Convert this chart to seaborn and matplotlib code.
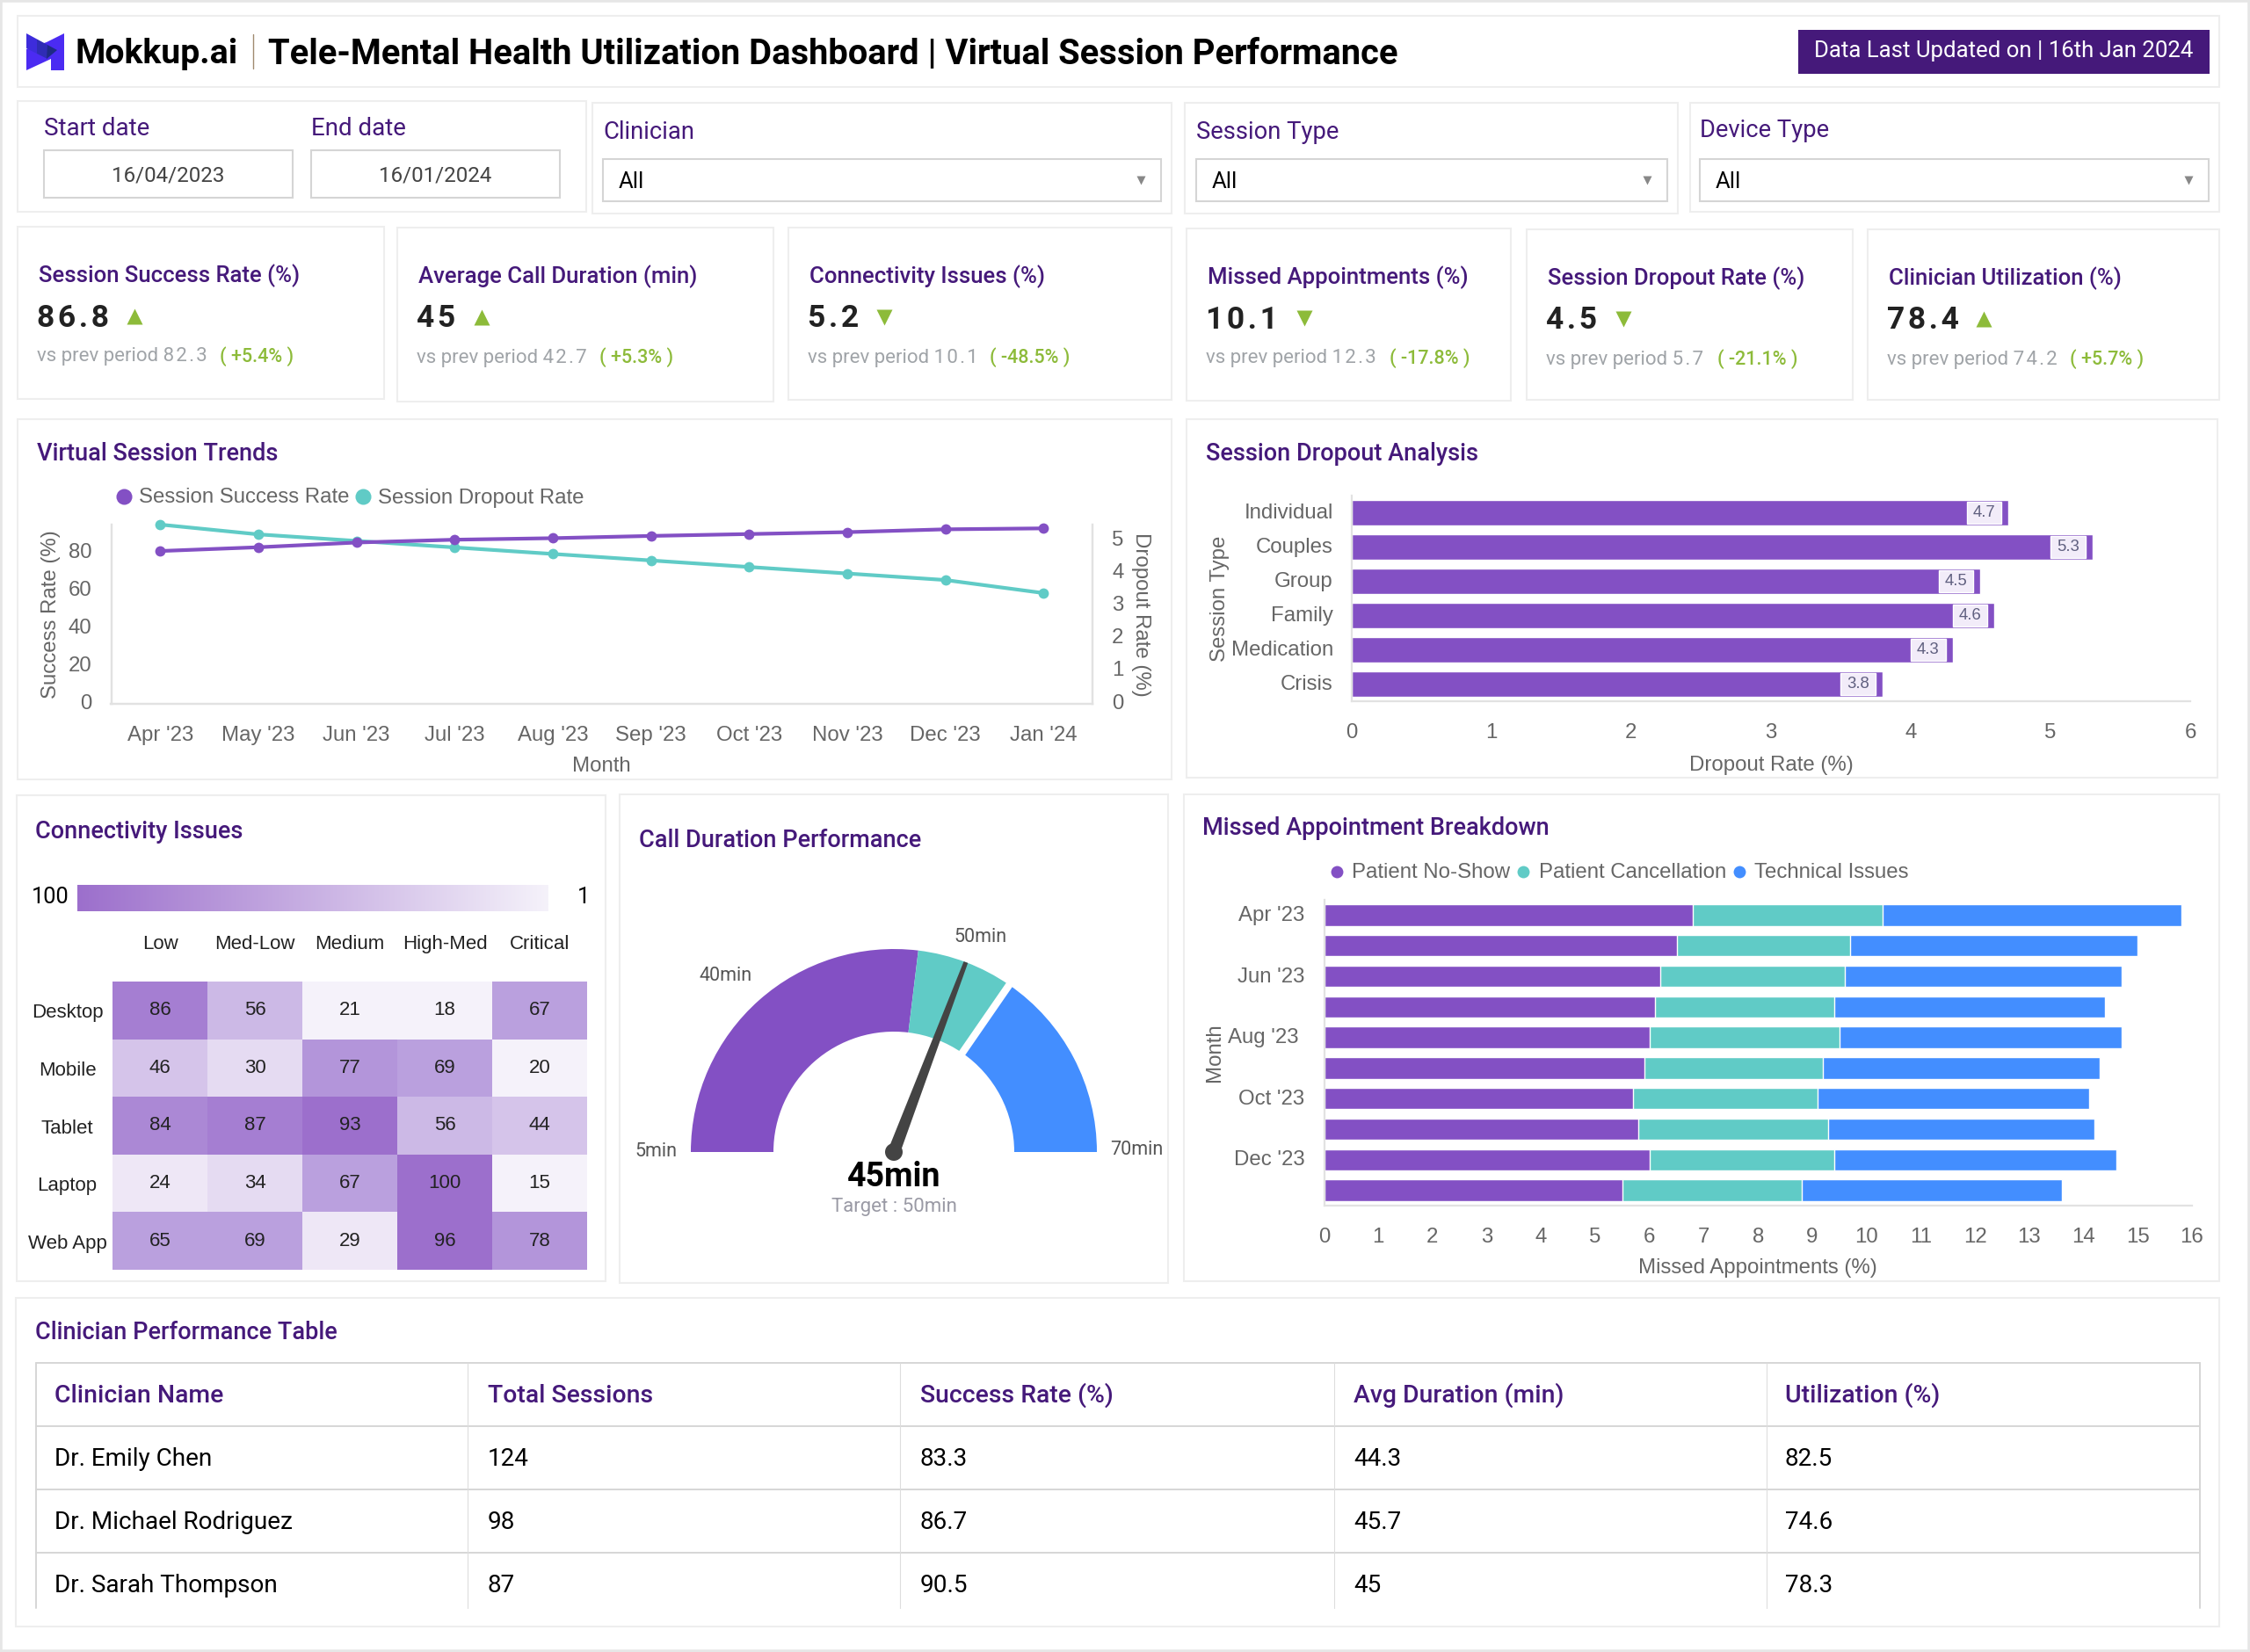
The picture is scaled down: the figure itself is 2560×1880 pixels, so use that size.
import numpy as np
import pandas as pd
import matplotlib
matplotlib.use("Agg")
import matplotlib.pyplot as plt
from matplotlib.patches import Rectangle, Polygon, Circle
from matplotlib.colors import ListedColormap, BoundaryNorm, LinearSegmentedColormap
from matplotlib.transforms import ScaledTranslation
import seaborn as sns

sns.set_theme(style="white")
plt.rcParams['font.family'] = ['Liberation Sans', 'DejaVu Sans']

W, H = 2560, 1880
PURPLE = '#8350C4'
TEAL = '#60CBC6'
BLUE = '#438EFF'
DARK = '#45197A'
GREEN = '#8DBB3A'
GREY = '#666666'
CARD_EDGE = '#EEEEEE'
AXIS_LINE = '#E2E2E2'
UI = ['Roboto', 'DejaVu Sans']
LABEL_SIZE = 17.3

# filters
start_date = '16/04/2023'
end_date = '16/01/2024'
filter_names = ['Clinician', 'Session Type', 'Device Type']

# kpi cards
kpi_titles = ['Session Success Rate (%)', 'Average Call Duration (min)', 'Connectivity Issues (%)',
              'Missed Appointments (%)', 'Session Dropout Rate (%)', 'Clinician Utilization (%)']
kpi_values = ['86.8', '45', '5.2', '10.1', '4.5', '78.4']
kpi_prev = ['82.3', '42.7', '10.1', '12.3', '5.7', '74.2']
kpi_change = ['+5.4%', '+5.3%', '-48.5%', '-17.8%', '-21.1%', '+5.7%']
kpi_up = [True, True, False, False, False, True]

# trends
months = ["Apr '23", "May '23", "Jun '23", "Jul '23", "Aug '23", "Sep '23", "Oct '23", "Nov '23", "Dec '23", "Jan '24"]
success_rate = [81, 83, 85.5, 87, 87.8, 89, 90, 91, 92.5, 93]
dropout_rate = [5.5, 5.2, 5.0, 4.8, 4.6, 4.4, 4.2, 4.0, 3.8, 3.4]

# dropout by session type
session_types = ['Individual', 'Couples', 'Group', 'Family', 'Medication', 'Crisis']
session_dropout = [4.7, 5.3, 4.5, 4.6, 4.3, 3.8]

# connectivity heatmap
devices = ['Desktop', 'Mobile', 'Tablet', 'Laptop', 'Web App']
severities = ['Low', 'Med-Low', 'Medium', 'High-Med', 'Critical']
issues_low = [86, 46, 84, 24, 65]
issues_medlow = [56, 30, 87, 34, 69]
issues_medium = [21, 77, 93, 67, 29]
issues_highmed = [18, 69, 56, 100, 96]
issues_critical = [67, 20, 44, 15, 78]
heat_bins = [0, 22, 30, 40, 50, 60, 70, 80, 85, 90, 101]
heat_colors = ['#F5F2FA', '#EEE7F6', '#E5DBF2', '#D5C4EA', '#CCB9E6', '#BAA0DE', '#B395DA', '#AB88D5', '#A57ED2', '#9C6FCC']

# gauge
gauge_bounds = [5, 40, 50, 70]
gauge_actual = 45
gauge_target = 50

# missed appointments
no_show = [6.8, 6.5, 6.2, 6.1, 6.0, 5.9, 5.7, 5.8, 6.0, 5.5]
cancellation = [3.5, 3.2, 3.4, 3.3, 3.5, 3.3, 3.4, 3.5, 3.4, 3.3]
technical = [5.5, 5.3, 5.1, 5.0, 5.2, 5.1, 5.0, 4.9, 5.2, 4.8]

# table
table_headers = ['Clinician Name', 'Total Sessions', 'Success Rate (%)', 'Avg Duration (min)', 'Utilization (%)']
clinicians = ['Dr. Emily Chen', 'Dr. Michael Rodriguez', 'Dr. Sarah Thompson']
total_sessions = ['124', '98', '87']
success_by_clinician = ['83.3', '86.7', '90.5']
duration_by_clinician = ['44.3', '45.7', '45']
utilization_by_clinician = ['82.5', '74.6', '78.3']

fig = plt.figure(figsize=(W / 100, H / 100), dpi=100, facecolor='white')
bg = fig.add_axes([0, 0, 1, 1])
bg.set_xlim(0, W)
bg.set_ylim(H, 0)
bg.axis('off')


def px_axes(x0, y0, x1, y1):
    a = fig.add_axes([x0 / W, 1 - y1 / H, (x1 - x0) / W, (y1 - y0) / H])
    a.patch.set_alpha(0)
    return a


def card(x0, y0, x1, y1, ec=CARD_EDGE, lw=1.5):
    bg.add_patch(Rectangle((x0, y0), x1 - x0, y1 - y0, fc='white', ec=ec, lw=lw))


def txt(x, y, s, size, color='black', weight='normal', ha='left', family=UI):
    bg.text(x, y + 2, s, fontsize=size, color=color, fontweight=weight, ha=ha, va='center', family=family)


def spaced(s):
    # the dashboard letter-spaces its numbers
    return '\u200a'.join(s)


def nudge(labels, dx_px=0, dy_px=0):
    shift = ScaledTranslation(dx_px / 100, -dy_px / 100, fig.dpi_scale_trans)
    for lab in labels:
        lab.set_transform(lab.get_transform() + shift)


def style_axis(a):
    sns.despine(ax=a)
    for side in ['left', 'bottom']:
        a.spines[side].set_color(AXIS_LINE)
        a.spines[side].set_linewidth(1.6)


def place_labels(a, xlabel, xpos, ylabel, ypos):
    a.set_xlabel(xlabel, fontsize=LABEL_SIZE, color=GREY, va='center', ha='center')
    a.xaxis.set_label_coords(xpos[0], xpos[1], transform=bg.transData)
    a.set_ylabel(ylabel, fontsize=LABEL_SIZE, color=GREY, va='center', ha='center')
    a.yaxis.set_label_coords(ypos[0], ypos[1], transform=bg.transData)


# page border
bg.add_patch(Rectangle((0, 0), W, H, fc='white', ec='#E6E6E6', lw=4))

# header
card(20, 18, 2525, 99)
bg.add_patch(Polygon([(73, 38), (73, 80), (58, 80), (58, 67), (30, 80), (30, 56), (53, 48)], fc='#4B2BF2', ec='none'))
bg.add_patch(Polygon([(30, 38), (42, 44.5), (42, 61), (30, 55)], fc='#3D2CDB', ec='none'))
bg.add_patch(Polygon([(42, 44.5), (54, 51), (54, 67), (42, 61)], fc='#2F2CB5', ec='none'))
bg.add_patch(Polygon([(54, 51), (65, 57), (53, 67)], fc='#1E2A85', ec='none'))
txt(85, 60, 'Mokkup.ai', 28.3, weight='bold')
bg.plot([288, 288], [39, 78], color='#A08A70', lw=1)
txt(305, 60, 'Tele-Mental Health Utilization Dashboard | Virtual Session Performance', 28.7, weight='bold')
bg.add_patch(Rectangle((2046, 34), 468, 50, fc=DARK, ec='none'))
txt(2280, 56, 'Data Last Updated on | 16th Jan 2024', 18.5, color='white', ha='center')

# filters
card(20, 115, 667, 241)
for label, value, bx in [('Start date', start_date, 50), ('End date', end_date, 354)]:
    txt(bx, 145, label, 20, color=DARK)
    bg.add_patch(Rectangle((bx, 171), 283, 54, fc='white', ec='#D5D5D5', lw=1.5))
    txt(bx + 141, 197.5, value, 17.4, color='#444444', ha='center')

filter_cards = [(674, 1333, 686, 1321, 149), (1348, 1909, 1361, 1897, 149), (1923, 2525, 1934, 2513, 147)]
for name, (c0, c1, b0, b1, ly) in zip(filter_names, filter_cards):
    card(c0, 117, c1, 243 if c1 != 2525 else 241)
    txt(b0, ly, name, 19.7, color=DARK)
    bg.add_patch(Rectangle((b0, 181), b1 - b0, 48, fc='white', ec='#D5D5D5', lw=1.5))
    txt(b0 + 18, 204.5, 'All', 18.5)
    bg.plot(b1 - 23, 205, marker='v', ms=6.5, color='#888888', mec='none')

# kpi row
kpi_cards = [(20, 258, 437, 454), (452, 259, 880, 457), (897, 259, 1333, 455),
             (1350, 260, 1719, 456), (1737, 261, 2108, 455), (2125, 261, 2525, 455)]
kpi_arrow_x = [153, 548, 1006, 1484, 1847, 2257]
kpi_green_x = [250, 682, 1126, 1581, 1954, 2355]
for i, (x0, y0, x1, y1) in enumerate(kpi_cards):
    card(x0, y0, x1, y1)
    tx = x0 + 23
    ty = y0 + 52
    txt(tx + 1, ty + 1.5, kpi_titles[i], 18.5, color=DARK, weight='medium')
    txt(tx - 1, ty + 50, spaced(kpi_values[i]), 25.5, color='#222222', weight='bold')
    bg.plot(kpi_arrow_x[i], ty + 50, marker='^' if kpi_up[i] else 'v', ms=13, color=GREEN, mec='none')
    txt(tx - 1, ty + 94, 'vs prev period ' + spaced(kpi_prev[i]), 16, color='#A0A4A8')
    txt(kpi_green_x[i], ty + 94, '( ' + kpi_change[i] + ' )', 15.5, color=GREEN, weight='medium')

# chart cards
card(20, 477, 1333, 887)
card(1350, 477, 2523, 885)
card(19, 905, 689, 1458)
card(705, 904, 1329, 1460)
card(1347, 904, 2525, 1458)
card(18, 1477, 2525, 1851)
TITLE_SIZE = 19.5
txt(42, 514, 'Virtual Session Trends', TITLE_SIZE, color=DARK, weight='medium')
txt(1372, 514, 'Session Dropout Analysis', TITLE_SIZE, color=DARK, weight='medium')
txt(40, 944, 'Connectivity Issues', TITLE_SIZE, color=DARK, weight='medium')
txt(727, 954, 'Call Duration Performance', TITLE_SIZE, color=DARK, weight='medium')
txt(1368, 940, 'Missed Appointment Breakdown', TITLE_SIZE, color=DARK, weight='medium')
txt(40, 1514, 'Clinician Performance Table', TITLE_SIZE, color=DARK, weight='medium')

# virtual session trends
bg.plot(141, 565, marker='o', ms=13, color=PURPLE, mec='none')
bg.plot(413, 565, marker='o', ms=13, color=TEAL, mec='none')
txt(158, 564.5, 'Session Success Rate', LABEL_SIZE, color=GREY, family='Liberation Sans')
txt(430, 564.5, 'Session Dropout Rate', LABEL_SIZE, color=GREY, family='Liberation Sans')

ax = px_axes(126.5, 597, 1243, 801)
ax2 = ax.twinx()
sns.lineplot(x=months, y=success_rate, ax=ax, color=PURPLE, lw=3, marker='o', ms=8.5, mec='none', sort=False)
sns.lineplot(x=months, y=dropout_rate, ax=ax2, color=TEAL, lw=3, marker='o', ms=8.5, mec='none', sort=False)
for line in ax.lines + ax2.lines:
    line.set_clip_on(False)
ax.set_zorder(ax2.get_zorder() + 1)
ax.patch.set_alpha(0)
ax2.patch.set_alpha(0)
ax.set_xlim(-0.5, 9.5)
ax.set_ylim(0, 95)
ax2.set_ylim(0, 5.5)
ax.set_yticks([0, 20, 40, 60, 80])
ax2.set_yticks([0, 1, 2, 3, 4, 5])
ax.tick_params(axis='x', labelsize=LABEL_SIZE, labelcolor=GREY, length=0, pad=18)
ax.tick_params(axis='y', labelsize=LABEL_SIZE, labelcolor=GREY, length=0, pad=16)
ax2.tick_params(axis='y', labelsize=LABEL_SIZE, labelcolor=GREY, length=0, pad=16)
nudge(ax.get_yticklabels(), dy_px=-3)
nudge(ax2.get_yticklabels(), dy_px=-3)
for a in (ax, ax2):
    for s in a.spines.values():
        s.set_color(AXIS_LINE)
        s.set_linewidth(1.6)
    a.spines['top'].set_visible(False)
place_labels(ax, 'Month', (684, 872.5), 'Success Rate (%)', (58, 699))
ax2.set_ylabel('Dropout Rate (%)', fontsize=LABEL_SIZE, color=GREY, rotation=-90, va='center', ha='center')
ax2.yaxis.set_label_coords(1298, 699, transform=bg.transData)

# session dropout
ax = px_axes(1537.7, 564, 2492, 798)
sns.barplot(x=session_dropout, y=session_types, ax=ax, color=PURPLE, saturation=1, width=0.72, orient='h')
for i, v in enumerate(session_dropout):
    ax.barh(i, 0.25, left=v - 0.30, height=0.64, color='#F2ECF9')
    ax.text(v - 0.175, i, str(v), ha='center', va='center', fontsize=13.3, color='#5F5F7F')
ax.set_xlim(0, 6)
ax.set_ylim(5.5, -0.5)
style_axis(ax)
ax.tick_params(axis='x', labelsize=LABEL_SIZE, labelcolor=GREY, length=0, pad=18)
ax.tick_params(axis='y', labelsize=LABEL_SIZE, labelcolor=GREY, length=0, pad=15)
nudge(ax.get_yticklabels(), dy_px=-2)
place_labels(ax, 'Dropout Rate (%)', (2015, 870.5), 'Session Type', (1388, 681))

# connectivity heatmap
heat = pd.DataFrame({'Low': issues_low, 'Med-Low': issues_medlow, 'Medium': issues_medium,
                     'High-Med': issues_highmed, 'Critical': issues_critical}, index=devices)[severities]
bar_ax = px_axes(88, 1007, 624, 1037)
bar_cmap = LinearSegmentedColormap.from_list('conn', ['#9C6FCC', '#F5F2FA'])
bar_ax.imshow(np.linspace(0, 1, 256)[None, :], aspect='auto', cmap=bar_cmap)
bar_ax.axis('off')
txt(36, 1019, '100', 18.4)
txt(657, 1019, '1', 18.4)

ax = px_axes(128, 1117, 668, 1445)
sns.heatmap(heat, ax=ax, cmap=ListedColormap(heat_colors), norm=BoundaryNorm(heat_bins, len(heat_colors)),
            annot=True, fmt='d', annot_kws={'fontsize': 16, 'color': '#222222'}, cbar=False, linewidths=0)
ax.xaxis.tick_top()
ax.set_xlabel('')
ax.set_ylabel('')
ax.tick_params(axis='x', labelsize=16, labelcolor='#222222', length=0, pad=23, rotation=0)
ax.tick_params(axis='y', labelsize=16, labelcolor='#222222', length=0, pad=37, rotation=0)
for lab in ax.get_yticklabels():
    lab.set_ha('center')
nudge(ax.get_yticklabels(), dy_px=3)

# gauge
cx, cy, R = 1017, 1311, 231
ax = px_axes(cx - R, cy - R, cx + R, cy + R)
segments = list(np.diff(gauge_bounds))
span = gauge_bounds[-1] - gauge_bounds[0]
ax.pie(segments + [span], colors=[PURPLE, TEAL, BLUE, 'none'], startangle=180, counterclock=False,
       radius=1, wedgeprops={'width': 94 / R, 'linewidth': 0})


def gauge_angle(v):
    return np.pi - (v - gauge_bounds[0]) / span * np.pi


gap = gauge_angle(gauge_bounds[2])
ax.plot([0.55 * np.cos(gap), 1.05 * np.cos(gap)], [0.55 * np.sin(gap), 1.05 * np.sin(gap)], color='white', lw=6)
ang = gauge_angle(gauge_actual)
d = np.array([np.cos(ang), np.sin(ang)])
n = np.array([-d[1], d[0]])
ax.add_patch(Polygon([7 / R * n, -7 / R * n, d - 2.5 / R * n, d + 2.5 / R * n], fc='#444444', ec='none', zorder=5))
ax.add_patch(Circle((0, 0), 10 / R, fc='#444444', ec='none', zorder=5))
ax.set_xlim(-1, 1)
ax.set_ylim(-1, 1)
txt(746.5, 1308, '5min', 15.5, color='#555555', ha='center')
txt(826, 1109, '40min', 15.5, color='#555555', ha='center')
txt(1115, 1065, '50min', 15.5, color='#555555', ha='center')
txt(1293, 1307, '70min', 15.5, color='#555555', ha='center')
txt(cx, 1337, '%dmin' % gauge_actual, 27, weight='bold', ha='center')
txt(cx, 1371, 'Target : %dmin' % gauge_target, 16, color='#9A9AA5', ha='center')

# missed appointments
for dot_x, text_x, name, col in [(1521, 1538, 'Patient No-Show', PURPLE), (1733, 1751, 'Patient Cancellation', TEAL),
                                 (1979, 1996, 'Technical Issues', BLUE)]:
    bg.plot(dot_x, 992, marker='o', ms=10, color=col, mec='none')
    txt(text_x, 991, name, LABEL_SIZE, color=GREY, family='Liberation Sans')

ax = px_axes(1506.5, 1024, 2494, 1372)
stack_total = np.array(no_show) + np.array(cancellation) + np.array(technical)
stack_mid = np.array(no_show) + np.array(cancellation)
sns.barplot(x=stack_total, y=months, ax=ax, color=BLUE, saturation=1, width=0.7, orient='h')
sns.barplot(x=stack_mid, y=months, ax=ax, color=TEAL, saturation=1, width=0.7, orient='h')
sns.barplot(x=no_show, y=months, ax=ax, color=PURPLE, saturation=1, width=0.7, orient='h')
ax.set_xlim(0, 16)
ax.set_ylim(9.5, -0.5)
ax.set_xticks(range(17))
ax.set_yticks(range(10), [m if i % 2 == 0 else '' for i, m in enumerate(months)])
style_axis(ax)
ax.tick_params(axis='x', labelsize=LABEL_SIZE, labelcolor=GREY, length=0, pad=18)
ax.tick_params(axis='y', labelsize=LABEL_SIZE, labelcolor=GREY, length=0, pad=16)
nudge(ax.get_yticklabels(), dy_px=-2)
nudge([ax.get_yticklabels()[4]], dx_px=-7)
place_labels(ax, 'Missed Appointments (%)', (2000, 1443.5), 'Month', (1382, 1198))

# table
table_left, table_right, table_top, table_cut = 41, 2503, 1551, 1830
row_lines = [1623, 1695, 1767]
col_lines = [532, 1024, 1518, 2010]
col_text = [62, 555, 1047, 1540, 2031]
row_text = [1658, 1731, 1802]
for y in [table_top] + row_lines:
    bg.plot([table_left, table_right], [y, y], color='#D6D6D6', lw=1.4)
for x in col_lines:
    bg.plot([x, x], [table_top, table_cut], color='#DDDDDD', lw=0.8)
for x in [table_left, table_right]:
    bg.plot([x, x], [table_top, table_cut], color='#D6D6D6', lw=1.4)
for x, h in zip(col_text, table_headers):
    txt(x, 1586, h, 20.4, color=DARK, weight='medium')
for j, col in enumerate([clinicians, total_sessions, success_by_clinician, duration_by_clinician, utilization_by_clinician]):
    for y, val in zip(row_text, col):
        txt(col_text[j], y, val, 20.1)

bg.set_xlim(0, W)
bg.set_ylim(H, 0)
fig.savefig('out.png', dpi=100, facecolor='white')
